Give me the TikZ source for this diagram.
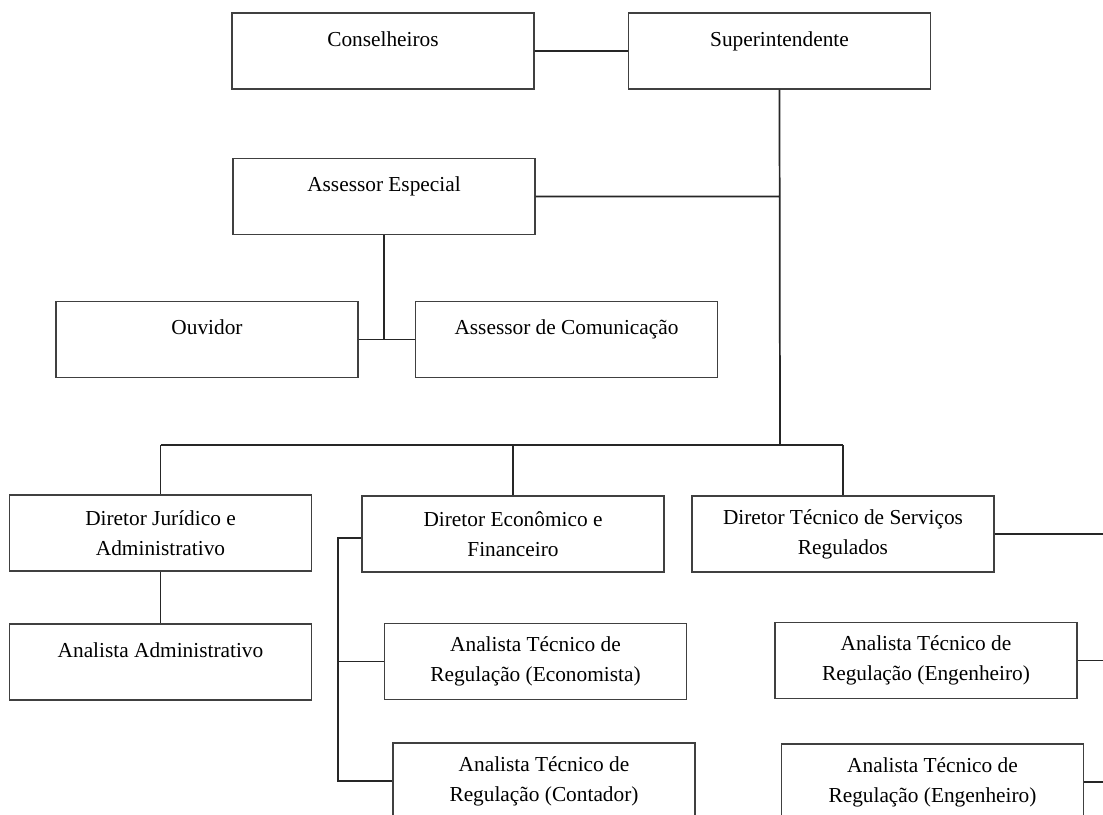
\documentclass[tikz,border=0pt]{standalone}
\usepackage{fontspec}
\setmainfont{Liberation Serif}
\colorlet{bcol}{black!75}
\tikzstyle{box}=[draw=bcol, line width=0.9pt, minimum width=226.5pt, minimum height=57pt, align=center, inner sep=0pt, font=\fontsize{16}{22.5}\selectfont]
\tikzstyle{one}=[box, text height=11pt, text depth=18.5pt]
\tikzstyle{edge}=[line width=1.3pt, black!85]
\begin{document}
\begin{tikzpicture}[x=0.75pt,y=-0.75pt]
	\useasboundingbox (0,0) rectangle (1103,814);
	\node[one] (cons) at (383,51) {Conselheiros};
	\node[one] (sup) at (779.5,51) {Superintendente};
	\node[one] (ase) at (384,196.5) {Assessor Especial};
	\node[one] (ouv) at (207,339.5) {Ouvidor};
	\node[one] (com) at (566.5,339.5) {Assessor de Comunicação};
	\node[box] (dju) at (160.5,533) {Diretor Jurídico e\\Administrativo};
	\node[box] (dec) at (513,534) {Diretor Econômico e\\Financeiro};
	\node[box] (dte) at (843,534) {Diretor Técnico de Serviços\\Regulados};
	\node[one] (aad) at (160.5,662) {Analista Administrativo};
	\node[box] (aec) at (535.5,661.5) {Analista Técnico de\\Regulação (Economista)};
	\node[box] (acn) at (544,781) {Analista Técnico de\\Regulação (Contador)};
	\node[box] (aen1) at (926,660.5) {Analista Técnico de\\Regulação (Engenheiro)};
	\node[box] (aen2) at (932.5,782) {Analista Técnico de\\Regulação (Engenheiro)};
	% junctions
	\coordinate (tr) at (780,445);
	\coordinate (ja) at (384,340);
	\coordinate (eb) at (338,538);
	\coordinate (rx) at (1103,0);
	\draw[edge] (cons)--(sup) (sup.south)--(tr) (ase.east)--(ase.east-|tr);
	\draw[edge] (ase.south)--(ja) (ouv.east)--(com.west);
	\draw[edge] (dju.north|-tr)--(dte.north|-tr) (dju.north|-tr)--(dju.north) (dec.north)--(dec.north|-tr) (dte.north|-tr)--(dte.north);
	\draw[edge] (dju)--(aad);
	\draw[edge] ([yshift=-3pt]dec.west)--(eb)|-(acn.west) (aec.west)--(aec.west-|eb);
	\draw[edge] (dte.east)--(dte.east-|rx) (aen1.east)--(aen1.east-|rx) (aen2.east)--(aen2.east-|rx);
\end{tikzpicture}
\end{document}
